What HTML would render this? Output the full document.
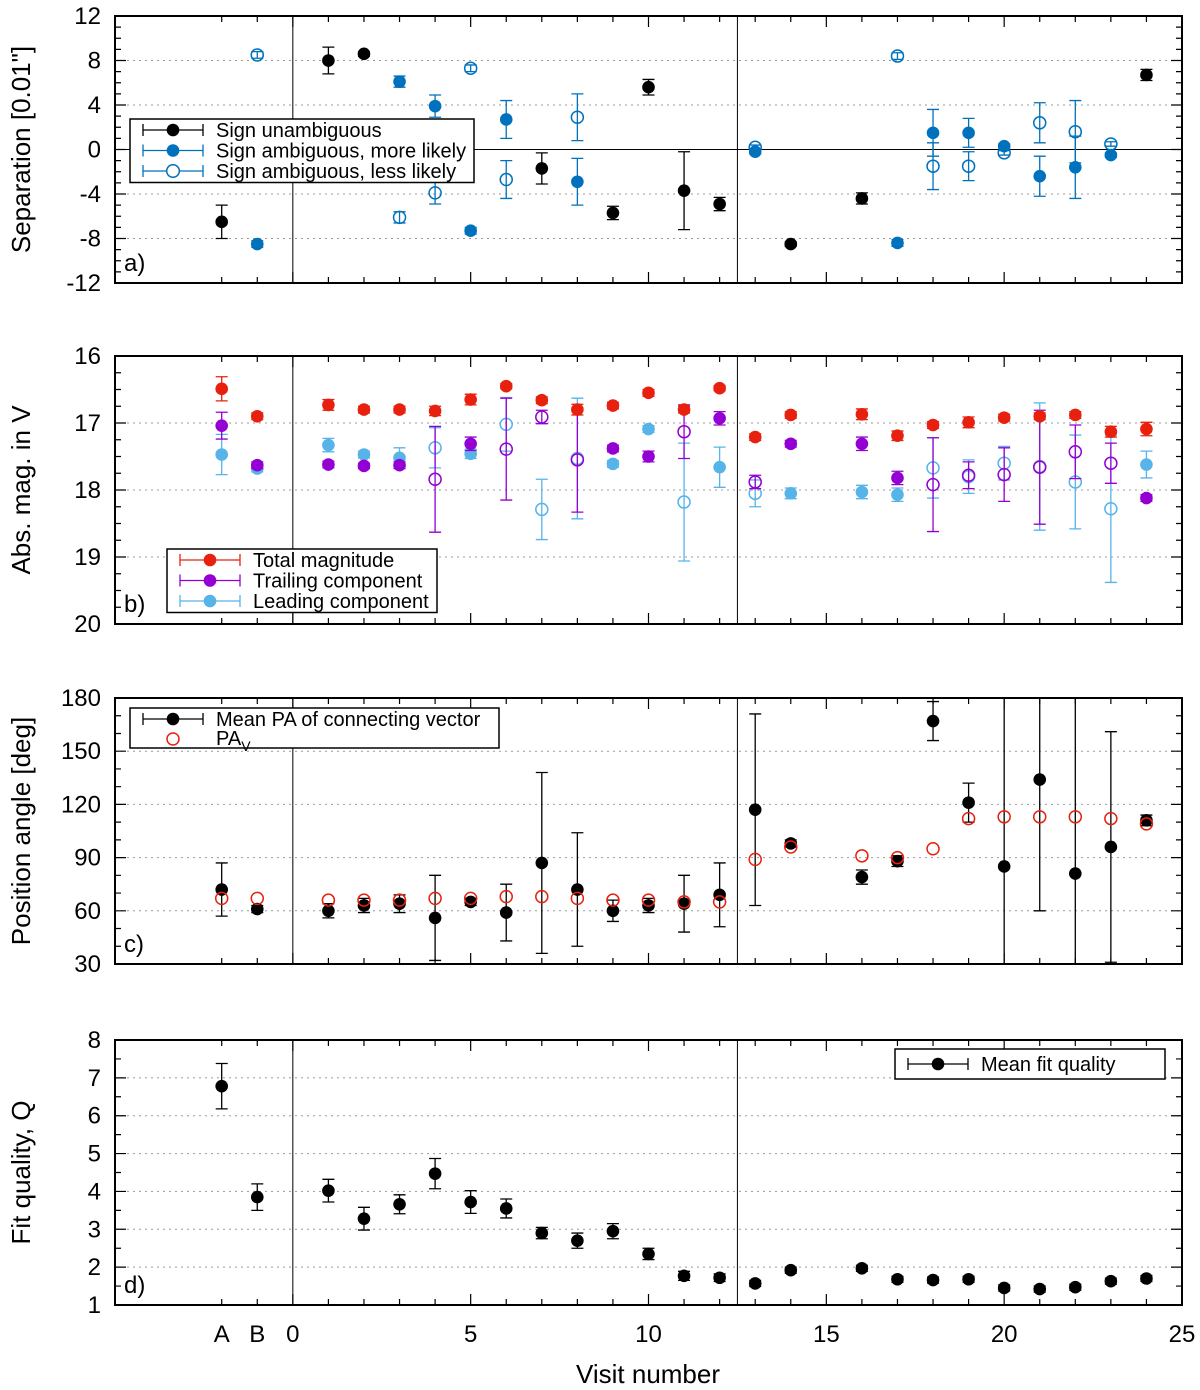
<!DOCTYPE html>
<html><head><meta charset="utf-8"><style>
body{margin:0;background:#fff}
svg{display:block;font-family:"Liberation Sans",sans-serif}
</style></head><body>
<svg id="chart" width="1200" height="1390" viewBox="0 0 1200 1390"></svg>
<script>
// x positions: A=-2, B=-1
// Panel a: separation
const aUnX=[-2,1,2,7,9,10,11,12,14,16,24];
const aUnY=[-6.5,8.0,8.6,-1.7,-5.7,5.6,-3.7,-4.9,-8.5,-4.4,6.7];
const aUnE=[1.5,1.2,0.2,1.4,0.6,0.7,3.5,0.6,0.2,0.5,0.5];
const aAmX=[-1,3,4,5,6,8,13,17,18,19,20,21,22,23];
const aMoreY=[-8.5,6.1,3.9,-7.3,2.7,-2.9,-0.2,-8.4,1.5,1.5,0.3,-2.4,-1.6,-0.5];
const aLessY=[8.5,-6.1,-3.9,7.3,-2.7,2.9,0.2,8.4,-1.5,-1.5,-0.3,2.4,1.6,0.5];
const aAmE=[0.3,0.5,1.0,0.3,1.7,2.1,0.2,0.3,2.1,1.3,0.2,1.8,2.8,0.2];
// Panel b: magnitudes
const bTotX=[-2,-1,1,2,3,4,5,6,7,8,9,10,11,12,13,14,16,17,18,19,20,21,22,23,24];
const bTotY=[16.49,16.9,16.73,16.8,16.8,16.82,16.65,16.45,16.66,16.8,16.74,16.55,16.8,16.48,17.21,16.88,16.87,17.19,17.03,16.99,16.92,16.9,16.88,17.13,17.09];
const bTotE=[0.18,0.05,0.08,0.05,0.05,0.07,0.08,0.04,0.05,0.08,0.05,0.05,0.05,0.04,0.05,0.05,0.08,0.07,0.05,0.08,0.05,0.05,0.05,0.08,0.1];
const bTrFX=[-2,-1,1,2,3,5,9,10,12,14,16,17,24];
const bTrFY=[17.04,17.63,17.62,17.64,17.63,17.31,17.38,17.5,16.93,17.31,17.31,17.82,18.12];
const bTrFE=[0.2,0.05,0.05,0.04,0.05,0.1,0.05,0.08,0.1,0.05,0.1,0.1,0.05];
const bTrOX=[4,6,7,8,11,13,18,19,20,21,22,23];
const bTrOY=[17.84,17.39,16.91,17.55,17.13,17.88,17.92,17.78,17.77,17.66,17.43,17.6];
const bTrOE=[0.79,0.76,0.1,0.78,0.4,0.1,0.7,0.2,0.4,0.85,0.4,0.3];
const bLeFX=[-2,-1,1,2,3,5,9,10,12,14,16,17,24];
const bLeFY=[17.47,17.68,17.33,17.47,17.52,17.46,17.61,17.09,17.66,18.05,18.03,18.07,17.62];
const bLeFE=[0.3,0.05,0.1,0.05,0.15,0.07,0.05,0.05,0.3,0.08,0.1,0.1,0.2];
const bLeOX=[4,6,7,8,11,13,18,19,20,21,22,23];
const bLeOY=[17.37,17.02,18.29,17.53,18.18,18.05,17.67,17.8,17.6,17.65,17.88,18.28];
const bLeOE=[0.3,0.4,0.45,0.9,0.88,0.2,0.45,0.25,0.25,0.95,0.7,1.1];
// Panel c: position angle
const cPaX=[-2,-1,1,2,3,4,5,6,7,8,9,10,11,12,13,14,16,17,18,19,20,21,22,23,24];
const cPaY=[72,61,60,63,64,56,65,59,87,72,60,63,64,69,117,98,79,88,167,121,85,134,81,96,111];
const cPaE=[15,2,4,4,5,24,2,16,51,32,6,4,16,18,54,2,4,3,11,11,100,74,100,65,3];
const cPvY=[67,67,66,66,66,67,67,68,68,67,66,66,65,65,89,96,91,90,95,112,113,113,113,112,109];
// Panel d: fit quality
const dQX=[-2,-1,1,2,3,4,5,6,7,8,9,10,11,12,13,14,16,17,18,19,20,21,22,23,24];
const dQY=[6.78,3.85,4.02,3.28,3.66,4.47,3.72,3.55,2.9,2.7,2.95,2.35,1.77,1.72,1.57,1.92,1.97,1.68,1.66,1.68,1.45,1.42,1.47,1.63,1.7];
const dQE=[0.6,0.35,0.3,0.3,0.25,0.4,0.3,0.25,0.15,0.2,0.2,0.15,0.12,0.1,0.08,0.08,0.08,0.08,0.08,0.08,0.08,0.08,0.08,0.08,0.08];
const xTickVals=[-2,-1,0,5,10,15,20,25];
const xTickLabels=['A','B','0','5','10','15','20','25'];

const NS='http://www.w3.org/2000/svg';
const svg=document.getElementById('chart');
const L=115,R=1182,XMIN=-5,XMAX=25;
function sx(v){return L+(v-XMIN)/(XMAX-XMIN)*(R-L);}
function mk(tag,attrs,parent){const e=document.createElementNS(NS,tag);for(const k in attrs)e.setAttribute(k,attrs[k]);(parent||svg).appendChild(e);return e;}
const BLK='#000',BLU='#0072bd',RED='#e8200e',PUR='#9400d3',LBL='#56b4e9';
const LFS=20;

const panels=[
 {id:'a',top:16,bot:283,min:-12,max:12,inv:false,major:4,minor:1,fmt:v=>String(v),title:'Separation [0.01"]'},
 {id:'b',top:356,bot:624,min:16,max:20,inv:true,major:1,minor:0.25,fmt:v=>String(v),title:'Abs. mag. in V'},
 {id:'c',top:698,bot:964,min:30,max:180,inv:false,major:30,minor:10,fmt:v=>String(v),title:'Position angle [deg]'},
 {id:'d',top:1040,bot:1305,min:1,max:8,inv:false,major:1,minor:0.5,fmt:v=>String(v),title:'Fit quality, Q'}
];
function syf(p){return v=> p.inv? p.top+(v-p.min)/(p.max-p.min)*(p.bot-p.top) : p.bot-(v-p.min)/(p.max-p.min)*(p.bot-p.top);}

function drawPoints(g,p,xs,ys,es,color,open,name){
 const sy=syf(p);
 xs.forEach((x,i)=>{
  const cx=sx(x),cy=sy(ys[i]);
  if(es){const e=es[i];const y1=sy(ys[i]-e),y2=sy(ys[i]+e);
   const eb=mk('path',{d:`M${cx},${y1}V${y2}M${cx-6},${y1}h12M${cx-6},${y2}h12`,stroke:color,'stroke-width':1.3,fill:'none'},g);
   
   }
  const c=mk('circle',{cx:cx,cy:cy,r:open?6:6.3,fill:open?'none':color,stroke:color,'stroke-width':open?1.5:0},g);
  
  
 });
}
function legend(p,x,y,w,entries){
 const g=mk('g',{});
 
 
 mk('rect',{x:x,y:y,width:w,height:entries.length*20.5+2,fill:'#fff',stroke:'#000','stroke-width':1.5},g);
 entries.forEach((en,i)=>{
  const cy=y+11+i*20.5;
  const ge=mk('g',{},g);
  
  
  mk('path',{d:`M${x+13},${cy}h60M${x+13},${cy-6}v12M${x+73},${cy-6}v12`,stroke:en.c,'stroke-width':1.3},ge);
  mk('circle',{cx:x+43,cy:cy,r:6.3,fill:en.open?'#fff':en.c,stroke:en.c,'stroke-width':en.open?1.5:0},ge);
  const t=mk('text',{x:x+86,y:cy+7,'font-size':LFS},ge);t.innerHTML=en.t;
 });
}

panels.forEach(p=>{
 const g=mk('g',{});
 
 
 const sy=syf(p);
 const clip=mk('clipPath',{id:'clip'+p.id});
 mk('rect',{x:L,y:p.top,width:R-L,height:p.bot-p.top},clip);
 for(let v=p.min+p.major;v<p.max;v+=p.major){
  mk('line',{x1:L,x2:R,y1:sy(v),y2:sy(v),stroke:'#999','stroke-width':1,'stroke-dasharray':'2,4'},g);
 }
 if(p.id==='a') mk('line',{x1:L,x2:R,y1:sy(0),y2:sy(0),stroke:'#000','stroke-width':1},g);
 [0,12.5].forEach(v=>mk('line',{x1:sx(v),x2:sx(v),y1:p.top,y2:p.bot,stroke:'#000','stroke-width':1},g));
 const n=Math.round((p.max-p.min)/p.minor);
 for(let i=0;i<=n;i++){const v=p.min+i*p.minor;const isMaj=Math.abs(v/p.major-Math.round(v/p.major))<1e-6;
  const len=isMaj?11:6;const y=sy(v);
  mk('path',{d:`M${L},${y}h${len}M${R},${y}h${-len}`,stroke:'#000','stroke-width':1.2},g);
  if(isMaj){const t=mk('text',{x:L-14,y:y+8,'text-anchor':'end','font-size':24},g);t.textContent=p.fmt(v);
   }
 }
 for(let v=-2;v<=25;v++){const len=(v%5===0)?11:6;const x=sx(v);
  mk('path',{d:`M${x},${p.bot}v${-len}M${x},${p.top}v${len}`,stroke:'#000','stroke-width':1.2},g);}
 mk('rect',{x:L,y:p.top,width:R-L,height:p.bot-p.top,fill:'none',stroke:'#000','stroke-width':2},g);
 const lab=mk('text',{x:124,y:p.bot-12,'font-size':24},g);lab.textContent=p.id+')';
 
 const cy=(p.top+p.bot)/2;
 const tt=mk('text',{x:30,y:cy,'font-size':26,'text-anchor':'middle',transform:`rotate(-90 30 ${cy})`},g);tt.textContent=p.title;
 
 p.g=mk('g',{'clip-path':`url(#clip${p.id})`},g);
});
const [pa,pb,pc,pd]=panels;
drawPoints(pa.g,pa,aUnX,aUnY,aUnE,BLK,false,'unambiguous');
drawPoints(pa.g,pa,aAmX,aMoreY,aAmE,BLU,false,'ambiguous-more');
drawPoints(pa.g,pa,aAmX,aLessY,aAmE,BLU,true,'ambiguous-less');
legend(pa,130,119,344,[{c:BLK,t:'Sign unambiguous'},{c:BLU,t:'Sign ambiguous, more likely'},{c:BLU,t:'Sign ambiguous, less likely',open:true}]);

drawPoints(pb.g,pb,bLeFX,bLeFY,bLeFE,LBL,false,'leading');
drawPoints(pb.g,pb,bLeOX,bLeOY,bLeOE,LBL,true,'leading-open');
drawPoints(pb.g,pb,bTrFX,bTrFY,bTrFE,PUR,false,'trailing');
drawPoints(pb.g,pb,bTrOX,bTrOY,bTrOE,PUR,true,'trailing-open');
drawPoints(pb.g,pb,bTotX,bTotY,bTotE,RED,false,'total');
legend(pb,167,549,270,[{c:RED,t:'Total magnitude'},{c:PUR,t:'Trailing component'},{c:LBL,t:'Leading component'}]);

drawPoints(pc.g,pc,cPaX,cPaY,cPaE,BLK,false,'mean-pa');
drawPoints(pc.g,pc,cPaX,cPvY,null,RED,true,'pa-v');
(function(){const g=mk('g',{});
 mk('rect',{x:130,y:708,width:369,height:40,fill:'#fff',stroke:'#000','stroke-width':1.5},g);
 mk('path',{d:'M143,719h60M143,713v12M203,713v12',stroke:BLK,'stroke-width':1.3},g);
 mk('circle',{cx:173,cy:719,r:6.3,fill:BLK},g);
 let t=mk('text',{x:216,y:726,'font-size':LFS},g);t.textContent='Mean PA of connecting vector';
 mk('circle',{cx:173,cy:739,r:6,fill:'none',stroke:RED,'stroke-width':1.5},g);
 t=mk('text',{x:216,y:745,'font-size':LFS},g);t.innerHTML='PA<tspan font-size="14" dy="6">V</tspan>';
})();

drawPoints(pd.g,pd,dQX,dQY,dQE,BLK,false,'fit-quality');
(function(){const g=mk('g',{});
 mk('rect',{x:895,y:1049,width:270,height:30,fill:'#fff',stroke:'#000','stroke-width':1.5},g);
 mk('path',{d:'M908,1064h60M908,1058v12M968,1058v12',stroke:BLK,'stroke-width':1.3},g);
 mk('circle',{cx:938,cy:1064,r:6.3,fill:BLK},g);
 const t=mk('text',{x:981,y:1071,'font-size':LFS},g);t.textContent='Mean fit quality';
})();

xTickVals.forEach((v,i)=>{const t=mk('text',{x:sx(v),y:1342,'text-anchor':'middle','font-size':24});t.textContent=xTickLabels[i];
 });
const xt=mk('text',{x:648,y:1383,'text-anchor':'middle','font-size':26});xt.textContent='Visit number';

</script>
</body></html>
